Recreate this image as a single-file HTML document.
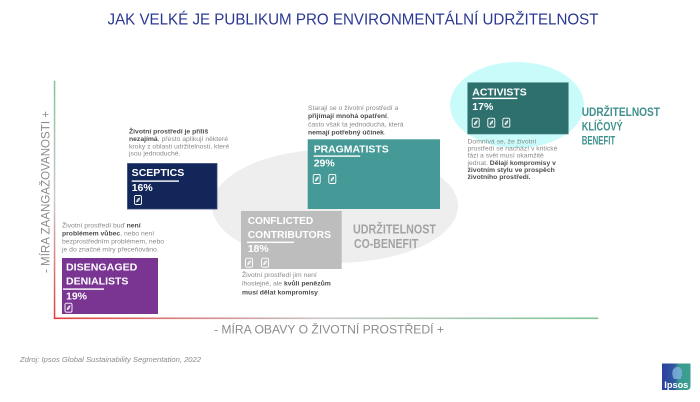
<!DOCTYPE html>
<html>
<head>
<meta charset="utf-8">
<style>
  html,body{margin:0;padding:0;background:#fff;}
  svg{display:block;}
  .d{font-family:"Liberation Sans",Arial,sans-serif;font-size:6.8px;fill:#8a8a8a;}
  .d .b{font-weight:bold;fill:#4d4d4d;}
  .bx{font-family:"Liberation Sans",Arial,sans-serif;font-size:10.5px;font-weight:bold;fill:#fff;}
</style>
</head>
<body>
<svg width="700" height="402" viewBox="0 0 700 402" xmlns="http://www.w3.org/2000/svg">
  <defs>
    <linearGradient id="gv" x1="0" y1="0" x2="0" y2="1">
      <stop offset="0" stop-color="#7fc594"/>
      <stop offset="0.5" stop-color="#c9c9c9"/>
      <stop offset="1" stop-color="#e43c3c"/>
    </linearGradient>
    <linearGradient id="gh" x1="0" y1="0" x2="1" y2="0">
      <stop offset="0" stop-color="#e43c3c"/>
      <stop offset="0.5" stop-color="#c9c9c9"/>
      <stop offset="1" stop-color="#7fc594"/>
    </linearGradient>
    <linearGradient id="gl" x1="0" y1="0" x2="1" y2="0">
      <stop offset="0" stop-color="#2b3f9f"/>
      <stop offset="0.45" stop-color="#2f5aa0"/>
      <stop offset="0.6" stop-color="#3a9a90"/>
      <stop offset="1" stop-color="#3aa08f"/>
    </linearGradient>
  </defs>

  <rect width="700" height="402" fill="#fff"/>

  <!-- Title -->
  <text x="107.5" y="24.3" textLength="491" lengthAdjust="spacingAndGlyphs" font-family="Liberation Sans, Arial, sans-serif" font-size="15.4" fill="#2a3893">JAK VELKÉ JE PUBLIKUM PRO ENVIRONMENTÁLNÍ UDRŽITELNOST</text>

  <!-- Ellipses -->
  <ellipse cx="335" cy="206" rx="123" ry="57" fill="#eeeeee"/>
  <ellipse cx="517" cy="105" rx="67" ry="43" fill="#c9fbfb"/>

  <!-- Axes -->
  <rect x="53.8" y="80.7" width="1.5" height="238" fill="url(#gv)"/>
  <rect x="53.8" y="317.5" width="544.5" height="1.6" fill="url(#gh)"/>

  <!-- Axis labels -->
  <text transform="translate(49.5,273) rotate(-90)" x="0" y="0" textLength="162" lengthAdjust="spacingAndGlyphs" font-family="Liberation Sans, Arial, sans-serif" font-size="11.8" fill="#8c8c8c">- MÍRA ZAANGAŽOVANOSTI +</text>
  <text x="214" y="333.4" textLength="230" lengthAdjust="spacingAndGlyphs" font-family="Liberation Sans, Arial, sans-serif" font-size="11.8" fill="#8c8c8c">- MÍRA OBAVY O ŽIVOTNÍ PROSTŘEDÍ +</text>

  <!-- Source -->
  <text x="20" y="361.8" textLength="181" lengthAdjust="spacingAndGlyphs" font-family="Liberation Sans, Arial, sans-serif" font-size="7.3" font-style="italic" fill="#8a8a8a">Zdroj: Ipsos Global Sustainability Segmentation, 2022</text>

  <!-- SCEPTICS -->
  <text class="d">
    <tspan x="129" y="133.4"><tspan class="b">Životní prostředí je příliš</tspan></tspan>
    <tspan x="129" y="140.9"><tspan class="b">nezajímá</tspan>, přesto aplikují některé</tspan>
    <tspan x="129" y="148.4">kroky z oblasti udržitelnosti, které</tspan>
    <tspan x="129" y="155.7">jsou jednoduché.</tspan>
  </text>
  <rect x="127.5" y="163.5" width="89.5" height="45.5" fill="#13265a" stroke="#3a4b7c" stroke-width="0.8"/>
  <text class="bx" x="131.7" y="176.2" textLength="52.6" lengthAdjust="spacingAndGlyphs">SCEPTICS</text>
  <rect x="131.7" y="180.4" width="47.3" height="1.4" fill="#fff"/>
  <text class="bx" x="131.7" y="191.2">16%</text>
  <g transform="translate(134.5,195.5)">
    <rect x="0" y="0" width="7" height="9" rx="1.5" fill="none" stroke="#fff" stroke-width="0.9"/>
    <path d="M2 6.8 L5 2.4 M2.2 6.5 C2 4.6 3 3.3 5 2.4 C5.1 4.6 4 6 2.2 6.5" fill="none" stroke="#fff" stroke-width="0.6"/>
  </g>

  <!-- DISENGAGED DENIALISTS -->
  <text class="d">
    <tspan x="62" y="227.4">Životní prostředí buď <tspan class="b">není</tspan></tspan>
    <tspan x="62" y="235.3"><tspan class="b">problémem vůbec</tspan>, nebo není</tspan>
    <tspan x="62" y="243.4">bezprostředním problémem, nebo</tspan>
    <tspan x="62" y="251.4">je do značné míry přeceňováno.</tspan>
  </text>
  <rect x="62" y="258" width="96" height="56" fill="#7a3593"/>
  <text class="bx" x="66" y="270.6" textLength="71.3" lengthAdjust="spacingAndGlyphs">DISENGAGED</text>
  <text class="bx" x="66" y="284.6">DENIALISTS</text>
  <rect x="63" y="288.4" width="41" height="1.4" fill="#fff"/>
  <text class="bx" x="66" y="299.6">19%</text>
  <g transform="translate(65,303.2)">
    <rect x="0" y="0" width="7" height="9" rx="1.5" fill="none" stroke="#fff" stroke-width="0.9"/>
    <path d="M2 6.8 L5 2.4 M2.2 6.5 C2 4.6 3 3.3 5 2.4 C5.1 4.6 4 6 2.2 6.5" fill="none" stroke="#fff" stroke-width="0.6"/>
  </g>

  <!-- CONFLICTED CONTRIBUTORS -->
  <rect x="241" y="211" width="100.7" height="58" fill="#bdbdbd"/>
  <text class="bx" x="247.7" y="224.1" textLength="65.6" lengthAdjust="spacingAndGlyphs">CONFLICTED</text>
  <text class="bx" x="247.7" y="238.1" textLength="83.3" lengthAdjust="spacingAndGlyphs">CONTRIBUTORS</text>
  <rect x="247" y="241.6" width="47" height="1.4" fill="#fff"/>
  <text class="bx" x="247.7" y="252.1">18%</text>
  <g transform="translate(245.5,258.2)">
    <rect x="0" y="0" width="7" height="9" rx="1.5" fill="none" stroke="#fff" stroke-width="0.9"/>
    <path d="M2 6.8 L5 2.4 M2.2 6.5 C2 4.6 3 3.3 5 2.4 C5.1 4.6 4 6 2.2 6.5" fill="none" stroke="#fff" stroke-width="0.6"/>
  </g>
  <g transform="translate(261.5,258.2)">
    <rect x="0" y="0" width="7" height="9" rx="1.5" fill="none" stroke="#fff" stroke-width="0.9"/>
    <path d="M2 6.8 L5 2.4 M2.2 6.5 C2 4.6 3 3.3 5 2.4 C5.1 4.6 4 6 2.2 6.5" fill="none" stroke="#fff" stroke-width="0.6"/>
  </g>
  <text class="d">
    <tspan x="242" y="276.8">Životní prostředí jim není</tspan>
    <tspan x="242" y="285.6">lhostejné, ale <tspan class="b">kvůli penězům</tspan></tspan>
    <tspan x="242" y="294.3"><tspan class="b">musí dělat kompromisy</tspan>.</tspan>
  </text>

  <!-- CO-BENEFIT -->
  <text x="353" y="233.3" textLength="83" lengthAdjust="spacingAndGlyphs" font-family="Liberation Sans, Arial, sans-serif" font-size="13" font-weight="bold" fill="#a3a3a3">UDRŽITELNOST</text>
  <text x="354" y="248" textLength="64.3" lengthAdjust="spacingAndGlyphs" font-family="Liberation Sans, Arial, sans-serif" font-size="13" font-weight="bold" fill="#a3a3a3">CO-BENEFIT</text>

  <!-- PRAGMATISTS -->
  <text class="d">
    <tspan x="308" y="109.8">Starají se o životní prostředí a</tspan>
    <tspan x="308" y="117.9"><tspan class="b">přijímají mnohá opatření</tspan>,</tspan>
    <tspan x="308" y="126.3">často však ta jednoduchá, která</tspan>
    <tspan x="308" y="134.5"><tspan class="b">nemají potřebný účinek</tspan>.</tspan>
  </text>
  <rect x="307.7" y="139.3" width="132.3" height="69.7" fill="#459997"/>
  <text class="bx" x="313.7" y="152.5" textLength="75" lengthAdjust="spacingAndGlyphs">PRAGMATISTS</text>
  <rect x="313.7" y="155.4" width="46.5" height="1.4" fill="#fff"/>
  <text class="bx" x="313.7" y="166.3">29%</text>
  <g transform="translate(313.2,174.5)">
    <rect x="0" y="0" width="7" height="9" rx="1.5" fill="none" stroke="#fff" stroke-width="0.9"/>
    <path d="M2 6.8 L5 2.4 M2.2 6.5 C2 4.6 3 3.3 5 2.4 C5.1 4.6 4 6 2.2 6.5" fill="none" stroke="#fff" stroke-width="0.6"/>
  </g>
  <g transform="translate(328.8,174.5)">
    <rect x="0" y="0" width="7" height="9" rx="1.5" fill="none" stroke="#fff" stroke-width="0.9"/>
    <path d="M2 6.8 L5 2.4 M2.2 6.5 C2 4.6 3 3.3 5 2.4 C5.1 4.6 4 6 2.2 6.5" fill="none" stroke="#fff" stroke-width="0.6"/>
  </g>

  <!-- ACTIVISTS -->
  <rect x="467.7" y="82.7" width="100.6" height="51.3" fill="#2e706d" stroke="#3f807d" stroke-width="0.6"/>
  <text class="bx" x="472.3" y="95.5" textLength="54.4" lengthAdjust="spacingAndGlyphs">ACTIVISTS</text>
  <rect x="472.3" y="97.7" width="45" height="1.4" fill="#fff"/>
  <text class="bx" x="472.3" y="109.8">17%</text>
  <g transform="translate(472.2,118.2)">
    <rect x="0" y="0" width="7" height="9" rx="1.5" fill="none" stroke="#fff" stroke-width="0.9"/>
    <path d="M2 6.8 L5 2.4 M2.2 6.5 C2 4.6 3 3.3 5 2.4 C5.1 4.6 4 6 2.2 6.5" fill="none" stroke="#fff" stroke-width="0.6"/>
  </g>
  <g transform="translate(487.8,118.2)">
    <rect x="0" y="0" width="7" height="9" rx="1.5" fill="none" stroke="#fff" stroke-width="0.9"/>
    <path d="M2 6.8 L5 2.4 M2.2 6.5 C2 4.6 3 3.3 5 2.4 C5.1 4.6 4 6 2.2 6.5" fill="none" stroke="#fff" stroke-width="0.6"/>
  </g>
  <g transform="translate(502.8,118.2)">
    <rect x="0" y="0" width="7" height="9" rx="1.5" fill="none" stroke="#fff" stroke-width="0.9"/>
    <path d="M2 6.8 L5 2.4 M2.2 6.5 C2 4.6 3 3.3 5 2.4 C5.1 4.6 4 6 2.2 6.5" fill="none" stroke="#fff" stroke-width="0.6"/>
  </g>
  <text class="d">
    <tspan x="467.5" y="143.4">Domnívá se, že životní</tspan>
    <tspan x="467.5" y="150.5">prostředí se nachází v kritické</tspan>
    <tspan x="467.5" y="157.6">fázi a svět musí okamžitě</tspan>
    <tspan x="467.5" y="164.8">jednat. <tspan class="b">Dělají kompromisy v</tspan></tspan>
    <tspan x="467.5" y="172.0"><tspan class="b">životním stylu ve prospěch</tspan></tspan>
    <tspan x="467.5" y="179.1"><tspan class="b">životního prostředí.</tspan></tspan>
  </text>

  <!-- KLÍČOVÝ BENEFIT -->
  <text font-family="Liberation Sans, Arial, sans-serif" font-size="12.3" font-weight="bold" fill="#3f918e">
    <tspan x="581.7" y="116" textLength="78.3" lengthAdjust="spacingAndGlyphs">UDRŽITELNOST</tspan>
    <tspan x="581.7" y="130.4" textLength="41" lengthAdjust="spacingAndGlyphs">KLÍČOVÝ</tspan>
    <tspan x="581.7" y="144.5" textLength="33.5" lengthAdjust="spacingAndGlyphs">BENEFIT</tspan>
  </text>

  <!-- Ipsos logo -->
  <g>
    <path d="M662 363.5 L690.5 363.5 L690.5 386 Q690.5 390 686.5 390 L662 390 Z" fill="url(#gl)"/>
    <path d="M674 379 C672 376 671.5 371 674 368.5 C676.5 366 680.5 366.5 681.5 369.5 C682.5 372 681.5 374 682.5 375.5 L681 376.5 L681.5 378.5 L679.5 379 Z" fill="#7db0d8" opacity="0.85"/>
    <text x="664.3" y="388" textLength="24" lengthAdjust="spacingAndGlyphs" font-family="Liberation Sans, Arial, sans-serif" font-size="9.5" font-weight="bold" fill="#fff">Ipsos</text>
  </g>
</svg>
</body>
</html>
